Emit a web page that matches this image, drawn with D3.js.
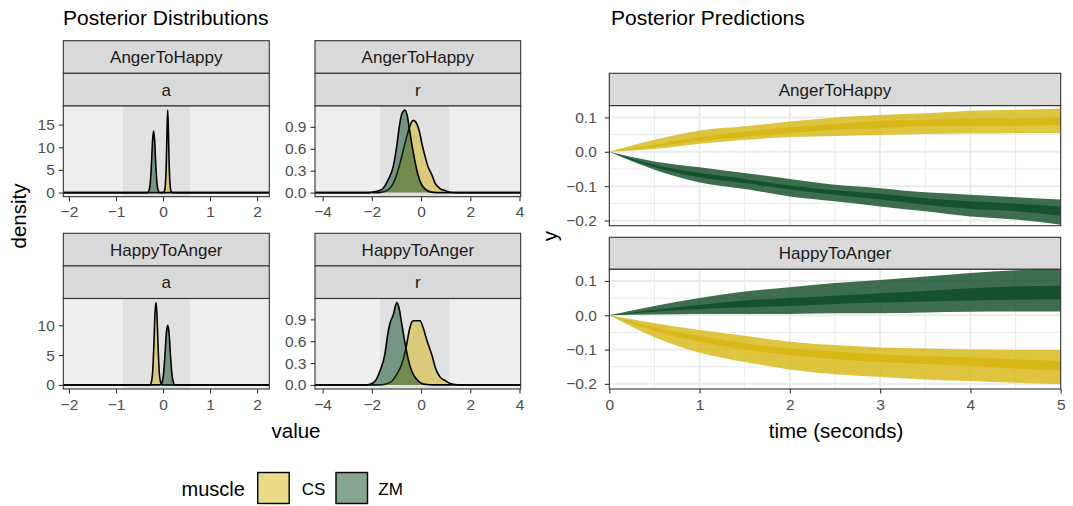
<!DOCTYPE html>
<html>
<head>
<meta charset="utf-8">
<title>posterior plots</title>
<script src="https://cdn.jsdelivr.net/npm/d3@7"></script>
<style>
  body { margin: 0; background: #fff; }
  svg text { font-family: "Liberation Sans", Arial, Helvetica, sans-serif; }
</style>
</head>
<body>
<svg id="chart" width="1073" height="506"></svg>
<script>
// ---------------- data ----------------
var muscles = ["CS", "ZM"];
var transitions = ["AngerToHappy", "HappyToAnger"];
var params = ["a", "r"];

// x limits of the density facets and the shaded interval in each
var aLimits = [-2.12, 2.26];
var rLimits = [-4.31, 4.05];
var aShade = [-0.85, 0.57];
var rShade = [-1.67, 1.15];
var aTicks = [-2, -1, 0, 1, 2];
var rTicks = [-4, -2, 0, 2, 4];
var aDensTicks = [[0, 5, 10, 15], [0, 5, 10]];
var rDensTicks = [0, 0.3, 0.6, 0.9];

// posterior densities: [value, density]
var dens_a_AtoH_CS = [[-2.12,0],[0.0,0],[0.03,0.3],[0.05,1.8],[0.07,6.5],[0.085,13.5],[0.1,18.2],[0.115,13.5],[0.13,6.5],[0.15,1.8],[0.17,0.3],[0.2,0],[2.26,0]];
var dens_a_AtoH_ZM = [[-2.12,0],[-0.33,0],[-0.3,0.4],[-0.27,2.2],[-0.245,6.5],[-0.22,11.8],[-0.2,13.6],[-0.18,11.8],[-0.155,6.5],[-0.13,2.2],[-0.1,0.4],[-0.07,0],[2.26,0]];
var dens_a_HtoA_CS = [[-2.12,0],[-0.28,0],[-0.25,0.4],[-0.22,2.2],[-0.195,6.5],[-0.17,12],[-0.15,13.8],[-0.13,12],[-0.105,6.5],[-0.08,2.2],[-0.05,0.4],[-0.02,0],[2.26,0]];
var dens_a_HtoA_ZM = [[-2.12,0],[-0.05,0],[-0.02,0.4],[0.01,1.8],[0.04,4.8],[0.07,8.6],[0.1,10],[0.13,8.6],[0.16,4.8],[0.19,1.8],[0.22,0.4],[0.25,0],[2.26,0]];

var dens_r_AtoH_CS = [[-4.31,0],[-1.7,0],[-1.53,0.01],[-1.26,0.06],[-1.06,0.18],[-0.85,0.41],[-0.65,0.68],[-0.52,0.84],[-0.41,0.95],[-0.31,0.99],[-0.2,0.96],[-0.07,0.84],[0.03,0.68],[0.16,0.5],[0.3,0.34],[0.43,0.25],[0.57,0.13],[0.77,0.055],[0.98,0.027],[1.18,0.005],[1.45,0],[4.05,0]];
var dens_r_AtoH_ZM = [[-4.31,0],[-2.1,0],[-1.87,0.014],[-1.6,0.04],[-1.33,0.18],[-1.13,0.36],[-0.99,0.63],[-0.88,0.91],[-0.79,1.07],[-0.65,1.13],[-0.56,1.05],[-0.45,0.82],[-0.31,0.54],[-0.18,0.32],[-0.01,0.13],[0.16,0.05],[0.37,0.01],[0.64,0],[4.05,0]];
var dens_r_HtoA_CS = [[-4.31,0],[-1.7,0],[-1.46,0.01],[-1.19,0.05],[-0.99,0.145],[-0.79,0.28],[-0.61,0.51],[-0.47,0.76],[-0.38,0.86],[-0.31,0.88],[-0.04,0.88],[0.09,0.78],[0.23,0.62],[0.43,0.42],[0.61,0.21],[0.77,0.11],[0.98,0.06],[1.18,0.02],[1.38,0.005],[1.6,0],[4.05,0]];
var dens_r_HtoA_ZM = [[-4.31,0],[-2.3,0],[-2.07,0.01],[-1.87,0.05],[-1.67,0.19],[-1.46,0.44],[-1.37,0.66],[-1.26,0.85],[-1.13,0.96],[-0.99,1.13],[-0.89,1.05],[-0.79,0.85],[-0.65,0.57],[-0.52,0.35],[-0.38,0.19],[-0.18,0.077],[0.03,0.02],[0.23,0.005],[0.5,0],[4.05,0]];

// posterior predictions over time: 95% (outer) and 50% (inner) bands
var time = [0, 0.5, 1, 1.5, 2, 2.5, 3, 3.5, 4, 4.5, 5];
var timeTicks = [0, 1, 2, 3, 4, 5];
var predLimits = [-0.215, 0.134];
var predTicks = [-0.2, -0.1, 0, 0.1];

var AtoH_CS_outerHi = [0, 0.035, 0.062, 0.074, 0.088, 0.100, 0.107, 0.112, 0.119, 0.122, 0.126];
var AtoH_CS_outerLo = [0, 0.008, 0.023, 0.035, 0.043, 0.046, 0.049, 0.052, 0.053, 0.054, 0.054];
var AtoH_CS_innerHi = [0, 0.020, 0.043, 0.059, 0.071, 0.081, 0.090, 0.093, 0.096, 0.096, 0.100];
var AtoH_CS_innerLo = [0, 0.014, 0.032, 0.043, 0.054, 0.064, 0.069, 0.074, 0.076, 0.076, 0.078];

var AtoH_ZM_outerHi = [0, -0.028, -0.045, -0.062, -0.079, -0.096, -0.106, -0.118, -0.125, -0.132, -0.139];
var AtoH_ZM_outerLo = [0, -0.052, -0.089, -0.108, -0.130, -0.144, -0.159, -0.173, -0.188, -0.197, -0.212];
var AtoH_ZM_innerHi = [0, -0.038, -0.062, -0.079, -0.099, -0.112, -0.122, -0.135, -0.144, -0.151, -0.159];
var AtoH_ZM_innerLo = [0, -0.045, -0.074, -0.091, -0.110, -0.125, -0.139, -0.154, -0.166, -0.173, -0.186];

var HtoA_CS_outerHi = [0, -0.023, -0.043, -0.060, -0.077, -0.087, -0.094, -0.097, -0.100, -0.101, -0.101];
var HtoA_CS_outerLo = [0, -0.064, -0.109, -0.136, -0.158, -0.172, -0.180, -0.187, -0.192, -0.197, -0.201];
var HtoA_CS_innerHi = [0, -0.035, -0.060, -0.082, -0.097, -0.106, -0.114, -0.119, -0.123, -0.129, -0.133];
var HtoA_CS_innerLo = [0, -0.045, -0.077, -0.100, -0.116, -0.128, -0.136, -0.142, -0.148, -0.155, -0.160];

var HtoA_ZM_outerHi = [0, 0.027, 0.050, 0.069, 0.082, 0.094, 0.103, 0.113, 0.123, 0.131, 0.138];
var HtoA_ZM_outerLo = [0, 0.002, 0.004, 0.004, 0.004, 0.006, 0.006, 0.008, 0.010, 0.011, 0.011];
var HtoA_ZM_innerHi = [0, 0.016, 0.030, 0.043, 0.050, 0.057, 0.064, 0.071, 0.079, 0.084, 0.086];
var HtoA_ZM_innerLo = [0, 0.010, 0.018, 0.023, 0.027, 0.033, 0.037, 0.040, 0.043, 0.045, 0.047];

// ---------------- drawing ----------------
var svg = d3.select("#chart");
var colour = { CS: "#D6B50F", ZM: "#0B4A23" };
var clipId = 0;

function strip(x0, x1, y0, y1, label) {
  svg.append("rect")
    .attr("x", x0).attr("y", y0).attr("width", x1 - x0).attr("height", y1 - y0)
    .attr("fill", "#D9D9D9").attr("stroke", "#333333").attr("stroke-width", 1.1);
  svg.append("text")
    .attr("x", (x0 + x1) / 2).attr("y", (y0 + y1) / 2).attr("dy", "0.36em")
    .attr("text-anchor", "middle").attr("font-size", 17).attr("fill", "#1A1A1A")
    .text(label);
}

function styleAxis(g) {
  g.select(".domain").remove();
  g.selectAll(".tick line").attr("stroke", "#333333").attr("stroke-width", 1.1);
  g.selectAll(".tick text").attr("fill", "#4D4D4D").attr("font-size", 15.5)
    .style("font-family", '"Liberation Sans", Arial, sans-serif');
}

function clipRect(x0, x1, y0, y1) {
  var id = "clip" + (clipId++);
  svg.append("clipPath").attr("id", id).append("rect")
    .attr("x", x0).attr("y", y0).attr("width", x1 - x0).attr("height", y1 - y0);
  return "url(#" + id + ")";
}

function densityPanel(box, xLim, shade, xTicks, yTicks, curves, yFmt) {
  var yMax = d3.max(curves, function(c) { return d3.max(c.pts, function(p) { return p[1]; }); });
  var pad = yMax * 0.05;
  var x = d3.scaleLinear().domain(xLim).range([box.x0, box.x1]);
  var y = d3.scaleLinear().domain([-pad, yMax + pad]).range([box.y1, box.y0]);

  var g = svg.append("g").attr("clip-path", clipRect(box.x0, box.x1, box.y0, box.y1));
  g.append("rect").attr("x", box.x0).attr("y", box.y0)
    .attr("width", box.x1 - box.x0).attr("height", box.y1 - box.y0).attr("fill", "#EEEEEE");
  g.append("rect").attr("x", x(shade[0])).attr("y", box.y0)
    .attr("width", x(shade[1]) - x(shade[0])).attr("height", box.y1 - box.y0).attr("fill", "#E1E1E1");

  var area = d3.area()
    .x(function(d) { return x(d[0]); })
    .y0(y(0))
    .y1(function(d) { return y(d[1]); })
    .curve(d3.curveMonotoneX);
  var line = d3.line()
    .x(function(d) { return x(d[0]); })
    .y(function(d) { return y(d[1]); })
    .curve(d3.curveMonotoneX);

  curves.forEach(function(c) {
    g.append("path").datum(c.pts).attr("d", area)
      .attr("fill", colour[c.muscle]).attr("fill-opacity", 0.5);
    g.append("path").datum(c.pts).attr("d", line)
      .attr("fill", "none").attr("stroke", "#000").attr("stroke-width", 1.6);
  });

  svg.append("rect").attr("x", box.x0).attr("y", box.y0)
    .attr("width", box.x1 - box.x0).attr("height", box.y1 - box.y0)
    .attr("fill", "none").attr("stroke", "#333333").attr("stroke-width", 1.1);

  svg.append("g").attr("transform", "translate(0," + box.y1 + ")")
    .call(d3.axisBottom(x).tickValues(xTicks).tickSize(4.5).tickPadding(5).tickFormat(d3.format("d")))
    .call(styleAxis);
  svg.append("g").attr("transform", "translate(" + box.x0 + ",0)")
    .call(d3.axisLeft(y).tickValues(yTicks).tickSize(4.5).tickPadding(4).tickFormat(yFmt))
    .call(styleAxis);
}

function predPanel(box, bands) {
  var x = d3.scaleLinear().domain([time[0], time[time.length - 1]]).range([box.x0, box.x1]);
  var y = d3.scaleLinear().domain(predLimits).range([box.y1, box.y0]);

  var g = svg.append("g").attr("clip-path", clipRect(box.x0, box.x1, box.y0, box.y1));
  g.append("rect").attr("x", box.x0).attr("y", box.y0)
    .attr("width", box.x1 - box.x0).attr("height", box.y1 - box.y0).attr("fill", "#fff");

  // grid: minor then major
  var xMinor = d3.range(0.5, 5, 1), yMinor = [-0.15, -0.05, 0.05];
  g.selectAll(null).data(xMinor).join("line")
    .attr("x1", x).attr("x2", x).attr("y1", box.y0).attr("y2", box.y1)
    .attr("stroke", "#EBEBEB").attr("stroke-width", 1);
  g.selectAll(null).data(yMinor).join("line")
    .attr("y1", y).attr("y2", y).attr("x1", box.x0).attr("x2", box.x1)
    .attr("stroke", "#EBEBEB").attr("stroke-width", 1);
  g.selectAll(null).data(timeTicks).join("line")
    .attr("x1", x).attr("x2", x).attr("y1", box.y0).attr("y2", box.y1)
    .attr("stroke", "#EBEBEB").attr("stroke-width", 2);
  g.selectAll(null).data(predTicks).join("line")
    .attr("y1", y).attr("y2", y).attr("x1", box.x0).attr("x2", box.x1)
    .attr("stroke", "#EBEBEB").attr("stroke-width", 2);

  var area = d3.area()
    .x(function(d) { return x(d.t); })
    .y0(function(d) { return y(d.lo); })
    .y1(function(d) { return y(d.hi); })
    .curve(d3.curveMonotoneX);

  ["outer", "inner"].forEach(function(level) {
    bands.forEach(function(b) {
      var pts = time.map(function(t, i) {
        return { t: t, lo: b[level + "Lo"][i], hi: b[level + "Hi"][i] };
      });
      g.append("path").datum(pts).attr("d", area)
        .attr("fill", colour[b.muscle]).attr("fill-opacity", 0.8);
    });
  });

  svg.append("rect").attr("x", box.x0).attr("y", box.y0)
    .attr("width", box.x1 - box.x0).attr("height", box.y1 - box.y0)
    .attr("fill", "none").attr("stroke", "#333333").attr("stroke-width", 1.1);

  svg.append("g").attr("transform", "translate(" + box.x0 + ",0)")
    .call(d3.axisLeft(y).tickValues(predTicks).tickSize(4.5).tickPadding(8).tickFormat(d3.format(".1f")))
    .call(styleAxis);
  return x;
}

// ---- titles ----
svg.append("text").attr("x", 63).attr("y", 25).attr("font-size", 21).attr("fill", "#000")
  .text("Posterior Distributions");
svg.append("text").attr("x", 611).attr("y", 25).attr("font-size", 21).attr("fill", "#000")
  .text("Posterior Predictions");

// ---- left: density facets ----
var cols = [{ x0: 63.3, x1: 269.3 }, { x0: 315, x1: 520.7 }];
var rows = [{ s0: 40.7, s1: 73.3, s2: 106, y1: 196.7 }, { s0: 233.3, s1: 265.9, s2: 298.5, y1: 389 }];
var densData = {
  "AngerToHappy": { a: { CS: dens_a_AtoH_CS, ZM: dens_a_AtoH_ZM }, r: { CS: dens_r_AtoH_CS, ZM: dens_r_AtoH_ZM } },
  "HappyToAnger": { a: { CS: dens_a_HtoA_CS, ZM: dens_a_HtoA_ZM }, r: { CS: dens_r_HtoA_CS, ZM: dens_r_HtoA_ZM } }
};

transitions.forEach(function(tr, ri) {
  var row = rows[ri];
  params.forEach(function(p, ci) {
    var col = cols[ci];
    strip(col.x0, col.x1, row.s0, row.s1, tr);
    strip(col.x0, col.x1, row.s1, row.s2, p);
    var curves = muscles.map(function(m) { return { muscle: m, pts: densData[tr][p][m] }; });
    var box = { x0: col.x0, x1: col.x1, y0: row.s2, y1: row.y1 };
    if (p === "a") densityPanel(box, aLimits, aShade, aTicks, aDensTicks[ri], curves, d3.format("d"));
    else densityPanel(box, rLimits, rShade, rTicks, rDensTicks, curves, d3.format(".1f"));
  });
});

svg.append("text").attr("transform", "translate(26,216) rotate(-90)")
  .attr("text-anchor", "middle").attr("font-size", 20.5).text("density");
svg.append("text").attr("x", 296).attr("y", 438)
  .attr("text-anchor", "middle").attr("font-size", 20.5).text("value");

// ---- right: prediction facets ----
var predBoxes = [{ s0: 73.3, x0: 609.3, x1: 1060.7, y0: 105.7, y1: 225.7 },
                 { s0: 237.3, x0: 609.3, x1: 1060.7, y0: 269.3, y1: 389 }];
var predData = {
  "AngerToHappy": [
    { muscle: "CS", outerLo: AtoH_CS_outerLo, outerHi: AtoH_CS_outerHi, innerLo: AtoH_CS_innerLo, innerHi: AtoH_CS_innerHi },
    { muscle: "ZM", outerLo: AtoH_ZM_outerLo, outerHi: AtoH_ZM_outerHi, innerLo: AtoH_ZM_innerLo, innerHi: AtoH_ZM_innerHi }],
  "HappyToAnger": [
    { muscle: "CS", outerLo: HtoA_CS_outerLo, outerHi: HtoA_CS_outerHi, innerLo: HtoA_CS_innerLo, innerHi: HtoA_CS_innerHi },
    { muscle: "ZM", outerLo: HtoA_ZM_outerLo, outerHi: HtoA_ZM_outerHi, innerLo: HtoA_ZM_innerLo, innerHi: HtoA_ZM_innerHi }]
};

var xTime;
transitions.forEach(function(tr, i) {
  var b = predBoxes[i];
  strip(b.x0, b.x1, b.s0, b.y0, tr);
  xTime = predPanel(b, predData[tr]);
});
svg.append("g").attr("transform", "translate(0," + predBoxes[1].y1 + ")")
  .call(d3.axisBottom(xTime).tickValues(timeTicks).tickSize(4.5).tickPadding(5).tickFormat(d3.format("d")))
  .call(styleAxis);

svg.append("text").attr("transform", "translate(557,236) rotate(-90)")
  .attr("text-anchor", "middle").attr("font-size", 20.5).text("y");
svg.append("text").attr("x", 836).attr("y", 438)
  .attr("text-anchor", "middle").attr("font-size", 20.5).text("time (seconds)");

// ---- legend ----
var legend = svg.append("g");
legend.append("text").attr("x", 181.5).attr("y", 496).attr("font-size", 20).text("muscle");
var keyX = [257.7, 336], labX = [301.7, 378.3];
muscles.forEach(function(m, i) {
  legend.append("rect").attr("x", keyX[i]).attr("y", 472.5).attr("width", 31.5).attr("height", 31)
    .attr("fill", colour[m]).attr("fill-opacity", 0.5).attr("stroke", "#000").attr("stroke-width", 1.4);
  legend.append("text").attr("x", labX[i]).attr("y", 495).attr("font-size", 17).text(m);
});
</script>
</body>
</html>
